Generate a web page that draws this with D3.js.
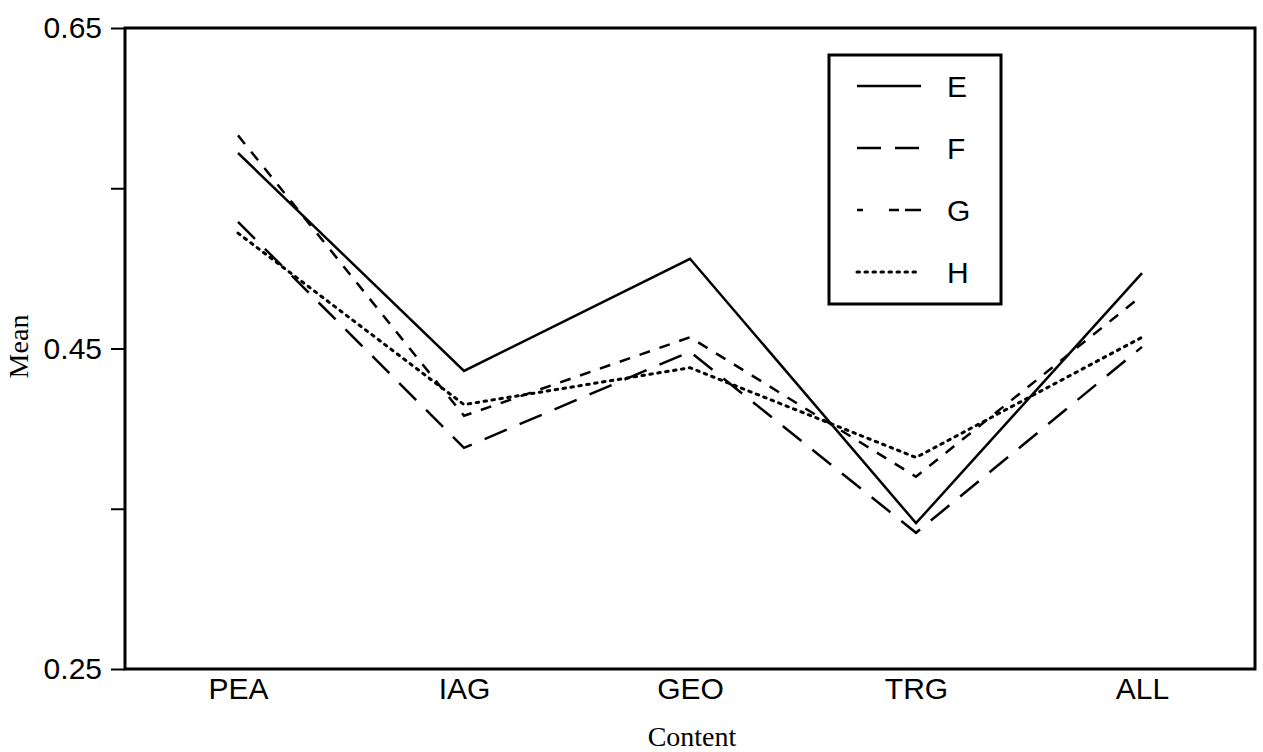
<!DOCTYPE html>
<html>
<head>
<meta charset="utf-8">
<script src="https://cdn.jsdelivr.net/npm/d3@7"></script>
<style>
  body { margin: 0; background: #fff; }
</style>
</head>
<body>
<div id="chart"></div>
<script>
const categories = ['PEA', 'IAG', 'GEO', 'TRG', 'ALL'];
const seriesNames = ['E', 'F', 'G', 'H'];
const valuesE = [0.572, 0.436, 0.506, 0.341, 0.497];
const valuesF = [0.529, 0.388, 0.448, 0.335, 0.451];
const valuesG = [0.583, 0.408, 0.457, 0.370, 0.483];
const valuesH = [0.522, 0.415, 0.438, 0.382, 0.457];
const yTicks = [0.25, 0.35, 0.45, 0.55, 0.65];
const yTickLabels = ['0.25', '', '0.45', '', '0.65'];

const width = 1263;
const height = 752;
const margin = { top: 28, right: 8, bottom: 83, left: 125 };

const series = [
  { name: 'E', values: valuesE, dash: null },
  { name: 'F', values: valuesF, dash: '24,14' },
  { name: 'G', values: valuesG, dash: '11,10' },
  { name: 'H', values: valuesH, dash: '2.5,5.5' }
];

const svg = d3.select('#chart')
  .append('svg')
  .attr('width', width)
  .attr('height', height);

const x = d3.scalePoint()
  .domain(categories)
  .range([margin.left, width - margin.right])
  .padding(0.5);

const y = d3.scaleLinear()
  .domain([0.25, 0.65])
  .range([height - margin.bottom, margin.top]);

// frame
svg.append('rect')
  .attr('x', margin.left)
  .attr('y', margin.top)
  .attr('width', width - margin.left - margin.right)
  .attr('height', height - margin.top - margin.bottom)
  .attr('fill', 'none')
  .attr('stroke', '#000')
  .attr('stroke-width', 3);

// y axis
const yAxis = svg.append('g')
  .attr('transform', `translate(${margin.left},0)`)
  .call(d3.axisLeft(y).tickValues(yTicks).tickFormat((d, i) => yTickLabels[i]).tickSize(14).tickPadding(9));
yAxis.select('.domain').remove();
yAxis.selectAll('line').attr('stroke-width', 2);
yAxis.selectAll('text')
  .attr('font-family', '"Liberation Sans", Arial, sans-serif')
  .attr('font-size', 30)
  .attr('fill', '#000');

// x axis
const xAxis = svg.append('g')
  .attr('transform', `translate(0,${height - margin.bottom})`)
  .call(d3.axisBottom(x).tickSize(0).tickPadding(9));
xAxis.select('.domain').remove();
xAxis.selectAll('text')
  .attr('font-family', '"Liberation Sans", Arial, sans-serif')
  .attr('font-size', 30)
  .attr('fill', '#000');

// axis titles
svg.append('text')
  .attr('x', (margin.left + width - margin.right) / 2 + 2)
  .attr('y', 746)
  .attr('text-anchor', 'middle')
  .attr('font-family', '"Liberation Serif", "Times New Roman", serif')
  .attr('font-size', 28)
  .text('Content');

svg.append('text')
  .attr('transform', `translate(28,${y(0.45) - 2}) rotate(-90)`)
  .attr('text-anchor', 'middle')
  .attr('font-family', '"Liberation Serif", "Times New Roman", serif')
  .attr('font-size', 28)
  .text('Mean');

// lines
const line = d3.line()
  .x((d, i) => x(categories[i]))
  .y(d => y(d));

svg.append('g')
  .selectAll('path')
  .data(series)
  .join('path')
    .attr('d', d => line(d.values))
    .attr('fill', 'none')
    .attr('stroke', '#000')
    .attr('stroke-width', d => d.name === 'H' ? 3 : 2.5)
    .attr('stroke-linecap', d => d.name === 'H' ? 'round' : 'butt')
    .attr('stroke-dasharray', d => d.dash);

// legend
const legend = svg.append('g');
legend.append('rect')
  .attr('x', 829)
  .attr('y', 55)
  .attr('width', 172)
  .attr('height', 249)
  .attr('fill', '#fff')
  .attr('stroke', '#000')
  .attr('stroke-width', 3);

const rowY = d3.scalePoint()
  .domain(seriesNames)
  .range([86, 272]);

const rows = legend.selectAll('g.row')
  .data(series)
  .join('g')
    .attr('class', 'row')
    .attr('transform', d => `translate(0,${rowY(d.name)})`);

rows.append('line')
  .attr('x1', 857)
  .attr('x2', 921)
  .attr('stroke', '#000')
  .attr('stroke-width', d => d.name === 'H' ? 3 : 2.5)
  .attr('stroke-linecap', d => d.name === 'H' ? 'round' : 'butt')
  .attr('stroke-dasharray', d => d.name === 'G' ? '6,26,10' : d.dash);

rows.append('text')
  .attr('x', 947)
  .attr('dy', '0.36em')
  .attr('font-family', '"Liberation Sans", Arial, sans-serif')
  .attr('font-size', 30)
  .text(d => d.name);
</script>
</body>
</html>
